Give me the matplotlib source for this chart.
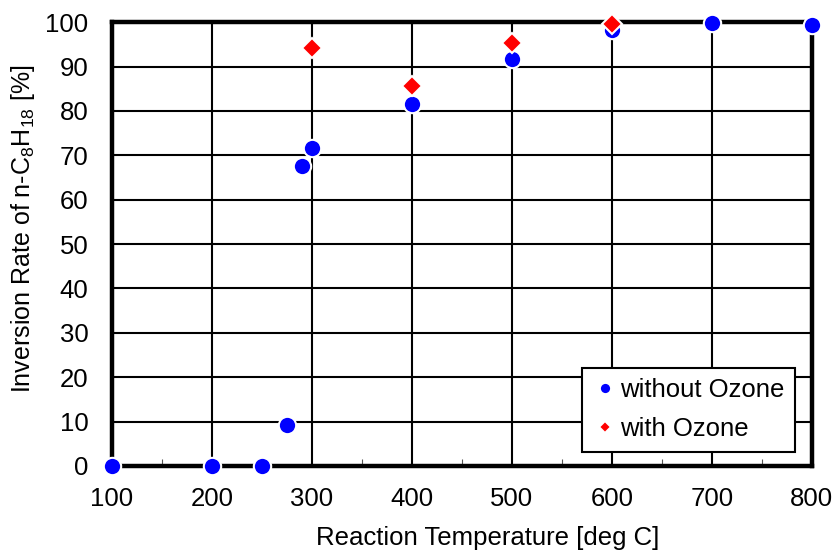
import numpy as np
import matplotlib.pyplot as plt
from matplotlib.ticker import MultipleLocator

plt.rcParams['font.family'] = ['Liberation Sans', 'DejaVu Sans']
plt.rcParams['mathtext.fontset'] = 'custom'
plt.rcParams['mathtext.rm'] = 'Liberation Sans'
plt.rcParams['mathtext.it'] = 'Liberation Sans'

# data
temp_no_ozone = [100, 200, 250, 275, 290, 300, 400, 500, 600, 700, 800]
rate_no_ozone = [0, 0, 0, 9.3, 67.6, 71.6, 81.5, 91.7, 98.2, 99.7, 99.4]
temp_ozone = [300, 400, 500, 600]
rate_ozone = [94.1, 85.6, 95.4, 99.5]

fs = 18.5

fig = plt.figure(figsize=(8.36, 5.54), dpi=100)
ax = fig.add_axes([0.134, 0.159, 0.837, 0.801])

ax.plot(temp_no_ozone, rate_no_ozone, 'o', color='blue', markersize=12.5,
        markeredgecolor='white', markeredgewidth=1.5, clip_on=False, zorder=5,
        label='without Ozone')
ax.plot(temp_ozone, rate_ozone, 'D', color='red', markersize=10,
        markeredgecolor='white', markeredgewidth=1.5, clip_on=False, zorder=6,
        label='with Ozone')

ax.set_xlim(100, 800)
ax.set_ylim(0, 100)
ax.xaxis.set_major_locator(MultipleLocator(100))
ax.xaxis.set_minor_locator(MultipleLocator(50))
ax.yaxis.set_major_locator(MultipleLocator(10))
ax.grid(True, which='major', color='black', linewidth=1.5)
ax.tick_params(which='major', length=0, labelsize=fs)
ax.tick_params(axis='x', which='major', pad=15)
ax.tick_params(axis='y', which='major', pad=17)
ax.tick_params(axis='x', which='minor', direction='in', length=5, width=0.8,
               color='#555555')
for s in ax.spines.values():
    s.set_linewidth(3.2)
    s.set_zorder(4)

ax.set_xlabel('Reaction Temperature [deg C]', fontsize=fs)
ax.set_ylabel('Inversion Rate of n-C$_8$H$_{18}$ [%]', fontsize=18)
ax.xaxis.set_label_coords(0.537, -0.135)
ax.yaxis.set_label_coords(-0.107, 0.535)

leg = ax.legend(loc='lower right', bbox_to_anchor=(0.976, 0.032), fontsize=fs,
                fancybox=False, framealpha=1, edgecolor='black',
                handletextpad=0.1, handlelength=1.0, borderpad=0.4,
                labelspacing=0.6, markerscale=0.65, borderaxespad=0)
leg.get_frame().set_linewidth(1.5)
leg.set_zorder(10)

fig.savefig('out.png', dpi=100)
